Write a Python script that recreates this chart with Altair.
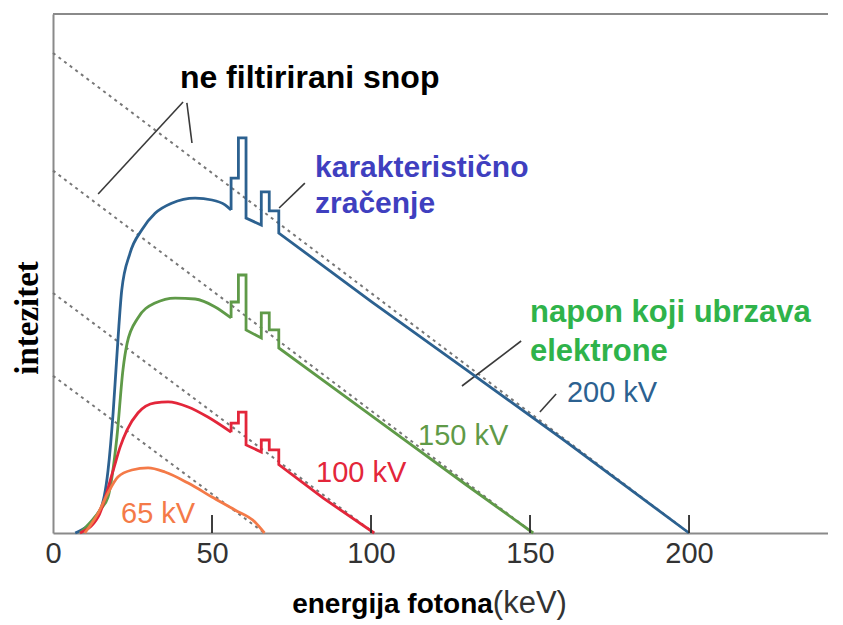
import altair as alt
import pandas as pd

# ---------------- data ----------------
X_MAX = 243.7      # keV at right edge of plot
Y_MAX = 216.25     # arbitrary intensity units at top of plot
x_ticks = [0, 50, 100, 150, 200]
inner_ticks = [50, 100, 150, 200]

# 200 kV
e200 = [7, 14.8, 17.3, 18.9, 19.8, 20.5, 21.6, 24.2, 27.9, 32.1, 37.3, 44.7, 50, 54.1,
        56, 56, 58.3, 58.3, 60.7, 60.7, 65.5, 65.5, 68, 68, 71, 71, 100, 130, 160, 200]
i200 = [0, 9.6, 26, 50, 68, 82, 101, 116.5, 126.25, 133.2, 137.4, 139.5, 138.75, 136.7,
        134.6, 147.9, 147.9, 164.6, 164.6, 131.25, 128.3, 142.1, 142.1, 134.2, 134.2, 125, 96.5, 68, 39.3, 0]
# 150 kV
e150 = [8.5, 14.8, 17.3, 20.1, 22, 23.3, 26.7, 32.1, 38.4, 44.7, 51,
        56, 56, 58.3, 58.3, 60.7, 60.7, 65.5, 65.5, 68, 68, 71, 71, 100, 130, 151]
i150 = [0, 9.6, 15, 40, 68, 79, 89.6, 95.8, 97.9, 97.5, 94.2,
        89.6, 96.25, 96.25, 107.5, 107.5, 84.6, 81.25, 91.7, 91.7, 84.6, 84.6, 77.1, 49, 20, 0]
# 100 kV
e100 = [8.5, 14.2, 18.9, 21.1, 23.3, 26.7, 32.1, 36.2, 42.5, 48.7,
        56, 56, 58.3, 58.3, 60.7, 60.7, 65.5, 65.5, 68, 68, 71, 71, 85, 101]
i100 = [0, 6.7, 26, 35.8, 43, 50, 54.2, 54.6, 52.5, 48.3,
        42, 45.8, 45.8, 50.4, 50.4, 36.7, 33.75, 38.75, 38.75, 34.6, 34.6, 28.5, 14.5, 0]
# 65 kV
e65 = [10, 14.2, 17.3, 20.4, 24.8, 29.9, 35.2, 42.5, 50, 57.2, 63.5, 66.5]
i65 = [0, 8.3, 16.7, 23.3, 26.25, 27.1, 25.4, 20.8, 15, 9.6, 4.6, 0]

series_names = ["200", "150", "100", "65"]
series_colors = ["#2c6190", "#5f9a48", "#e3263a", "#f47a48"]

# unfiltered beam (dotted): start at E=0, end on the axis
dot_start = [200, 151, 100, 65.5]
dot_end = [200, 151, 101, 66.5]

# leader lines (x, y) -> (x2, y2)
lead_x = [40.9, 42.1, 79.2, 147.2, 158.2]
lead_y = [179.6, 179.2, 145.8, 80, 57.9]
lead_x2 = [14.2, 43.7, 71.1, 128.6, 153.1]
lead_y2 = [141.25, 162.5, 135.4, 61.25, 50.4]

# ---------------- tables ----------------
# smooth continuum (before the first K line at 56 keV) and stepped part after it
rows_s, rows_k = [], []
for name, evals, ivals in zip(series_names, [e200, e150, e100, e65], [i200, i150, i100, i65]):
    first = evals.index(56) if 56 in evals else len(evals) - 1
    for k, (e, v) in enumerate(zip(evals, ivals)):
        if k <= first:
            rows_s.append({"E": e, "I": v, "kv": name, "k": k})
        if k >= first:
            rows_k.append({"E": e, "I": v, "kv": name, "k": k})
smooth = pd.DataFrame(rows_s)
steps = pd.DataFrame(rows_k)

drows = []
for name, s, e in zip(series_names, dot_start, dot_end):
    drows.append({"E": 0, "I": s, "kv": name, "k": 0})
    drows.append({"E": e, "I": 0, "kv": name, "k": 1})
dots = pd.DataFrame(drows)

leads = pd.DataFrame({"x": lead_x, "y": lead_y, "x2": lead_x2, "y2": lead_y2})
ticks = pd.DataFrame({"tx": inner_ticks, "ty": [0.0] * 4, "ty2": [7.5] * 4})

xs = alt.Scale(domain=[0, X_MAX], nice=False, zero=False)
ys = alt.Scale(domain=[0, Y_MAX], nice=False, zero=False)
cs = alt.Scale(domain=series_names, range=series_colors)

x_axis = alt.Axis(values=x_ticks, ticks=False, grid=False, title=None, labelFontSize=29,
                  labelColor="#333333", labelFont="Liberation Sans", labelPadding=6,
                  domainColor="#8a8a8a", domainWidth=2, labelFlush=False)
y_axis = alt.Axis(labels=False, ticks=False, grid=False, title=None,
                  domainColor="#8a8a8a", domainWidth=2)

dotted = alt.Chart(dots).mark_line(strokeDash=[3, 4], strokeWidth=2, color="#777777").encode(
    x=alt.X("E:Q", scale=xs, axis=x_axis),
    y=alt.Y("I:Q", scale=ys, axis=y_axis),
    detail="kv:N",
    order="k:Q",
)

lines_s = alt.Chart(smooth).mark_line(strokeWidth=2.8, interpolate="monotone").encode(
    x=alt.X("E:Q", scale=xs),
    y=alt.Y("I:Q", scale=ys),
    color=alt.Color("kv:N", scale=cs, legend=None),
    order="k:Q",
)
lines_k = alt.Chart(steps).mark_line(strokeWidth=2.8, strokeJoin="miter").encode(
    x=alt.X("E:Q", scale=xs),
    y=alt.Y("I:Q", scale=ys),
    color=alt.Color("kv:N", scale=cs, legend=None),
    order="k:Q",
)

top_frame = alt.Chart(pd.DataFrame({"a": [0], "b": [X_MAX], "c": [Y_MAX]})).mark_rule(
    color="#8a8a8a", strokeWidth=2).encode(
    x=alt.X("a:Q", scale=xs), x2="b:Q", y=alt.Y("c:Q", scale=ys))

tick_marks = alt.Chart(ticks).mark_rule(color="#2a2a2a", strokeWidth=1.8).encode(
    x=alt.X("tx:Q", scale=xs), y=alt.Y("ty:Q", scale=ys), y2=alt.Y2("ty2:Q"))

leaders = alt.Chart(leads).mark_rule(color="#3a3a3a", strokeWidth=1.6).encode(
    x=alt.X("x:Q", scale=xs), y=alt.Y("y:Q", scale=ys), x2="x2:Q", y2="y2:Q")


def text_layer(texts, xv, yv, color, size, weight="normal", font="Liberation Sans",
               angle=0, align="left", baseline="alphabetic"):
    df = pd.DataFrame({"t": texts, "x": xv, "y": yv})
    return alt.Chart(df).mark_text(color=color, fontSize=size, fontWeight=weight, font=font,
                                   angle=angle, align=align, baseline=baseline).encode(
        x=alt.X("x:Q", scale=xs), y=alt.Y("y:Q", scale=ys), text="t:N")


t_unf = text_layer(["ne filtirirani snop"], [39.9], [185.4], "#000000", 32, "bold")
t_char = text_layer(["karakteristično", "zračenje"], [82.4, 82.4], [148.3, 133.5], "#3f3fbf", 30, "bold")
t_volt = text_layer(["napon koji ubrzava", "elektrone"], [150, 150], [87.9, 71.7], "#2fb34a", 31, "bold")
t_200 = text_layer(["200 kV"], [161.6], [54.6], "#2c6190", 29)
t_150 = text_layer(["150 kV"], [114.8], [36.7], "#5f9a48", 29)
t_100 = text_layer(["100 kV"], [82.7], [21.25], "#e3263a", 29)
t_65 = text_layer(["65 kV"], [21.4], [4.2], "#f47a48", 29)
t_xt1 = text_layer(["energija fotona"], [75.2], [-33.5], "#000000", 28, "bold")
t_xt2 = text_layer(["(keV)"], [138.3], [-33.5], "#333333", 31)
t_yt = text_layer(["intezitet"], [-8.0], [89.6], "#000000", 33, "bold", "Liberation Serif",
                  angle=270, align="center", baseline="middle")

chart = alt.layer(
    dotted, top_frame, leaders, lines_s, lines_k, tick_marks,
    t_unf, t_char, t_volt, t_200, t_150, t_100, t_65, t_xt1, t_xt2, t_yt,
).properties(
    width=775, height=519,
    padding={"left": 45, "top": 6, "right": 0, "bottom": 90},
    autosize=alt.AutoSizeParams(type="none"),
    background="white",
).configure_view(stroke=None)

chart.save("out.html", embed_options={"renderer": "svg", "actions": False})
